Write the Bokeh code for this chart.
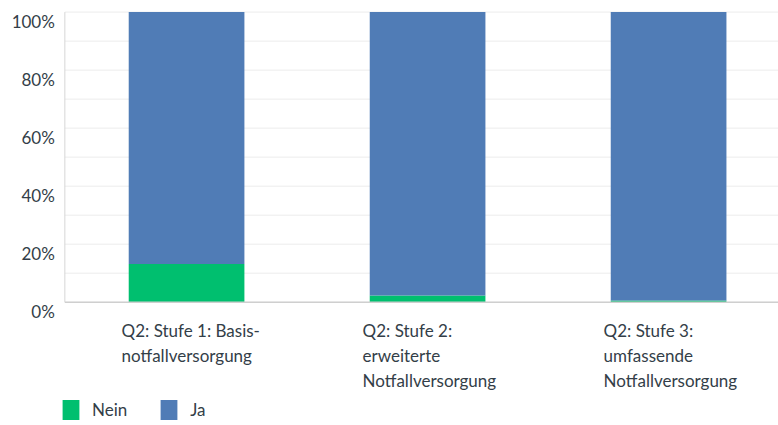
from bokeh.plotting import figure
from bokeh.models import Range1d, Legend, LegendItem, ColumnDataSource
from bokeh.core.properties import value
from bokeh.embed import file_html
from bokeh.resources import INLINE

# ---- data ----
categories = [
    "Q2: Stufe 1: Basis-\nnotfallversorgung",
    "Q2: Stufe 2:\nerweiterte\nNotfallversorgung",
    "Q2: Stufe 3:\numfassende\nNotfallversorgung",
]
series_names = ["Nein", "Ja"]
nein = [13.2, 2.3, 0.6]
ja = [86.8, 97.7, 99.4]
y_ticks = [0, 20, 40, 60, 80, 100]
y_minor_ticks = [10, 30, 50, 70, 90]
y_tick_labels = ["0%", "20%", "40%", "60%", "80%", "100%"]
colors = ["#00BF6F", "#507CB6"]

# ---- layout / style ----
FONT = "Lato"
TEXT_COLOR = "#333e48"
X_START, X_END = -0.772, 2.456      # frame covers the whole canvas
Y_START, Y_END = -42.5, 104.0
AXIS_X = -0.505                      # position of the value axis line
X_LABEL_Y = -6.1                     # top of the category labels

positions = list(range(len(categories)))
src = ColumnDataSource(dict(x=positions, nein=nein, ja=ja, label=categories))

p = figure(
    width=778, height=425,
    x_range=Range1d(X_START, X_END), y_range=Range1d(Y_START, Y_END),
    output_backend="svg", toolbar_location=None,
    min_border=0,
)
p.outline_line_color = None
p.axis.visible = False
p.grid.visible = False

# grid lines (major + minor), starting at the value axis
grid_vals = sorted(y_ticks + y_minor_ticks)
p.segment(x0=AXIS_X, x1=X_END, y0=grid_vals, y1=grid_vals,
          line_color="#ececec", line_width=1)

# axis lines
p.segment(x0=[AXIS_X], x1=[AXIS_X], y0=[y_ticks[0]], y1=[y_ticks[-1]],
          line_color="#d6d6d6", line_width=1)

renderers = p.vbar_stack(
    ["nein", "ja"], x="x", width=0.48,
    color=colors, line_color=None, source=src,
)

p.segment(x0=[AXIS_X], x1=[X_END], y0=[y_ticks[0]], y1=[y_ticks[0]],
          line_color="#cfcfcf", line_width=1.5)

# value axis labels (sit just below their grid line, as in the original)
ysrc = ColumnDataSource(dict(y=y_ticks, label=y_tick_labels))
p.text(x=AXIS_X, y="y", text="label", source=ysrc,
       x_offset=-10, y_offset=-1, text_align="right", text_baseline="top",
       text_font=value(FONT), text_font_size="17px", text_color=TEXT_COLOR)

# category labels, left aligned
p.text(x="x", y=X_LABEL_Y, text="label", source=src,
       x_offset=-65, text_align="left", text_baseline="top",
       text_font=value(FONT), text_font_size="17px", text_color=TEXT_COLOR,
       text_line_height=1.2)

legend = Legend(
    items=[LegendItem(label=n, renderers=[r]) for n, r in zip(series_names, renderers)],
    orientation="horizontal", location=(60, 3),
    margin=0, padding=0, spacing=31, label_standoff=11,
    glyph_width=21, glyph_height=25,
    label_text_font=FONT, label_text_font_size="17px", label_text_color=TEXT_COLOR,
    border_line_color=None, background_fill_alpha=0,
)
p.add_layout(legend, "center")

open("out.html", "w").write(file_html(p, INLINE))
